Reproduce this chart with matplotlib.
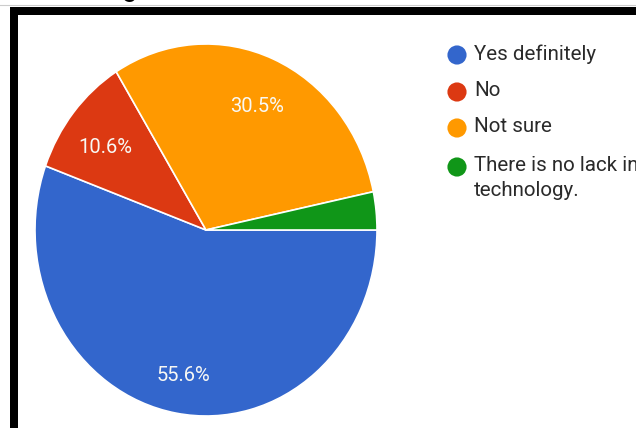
import matplotlib.pyplot as plt
from matplotlib.patches import Rectangle

plt.rcParams['font.family'] = ['Roboto', 'DejaVu Sans']

labels = ['Yes definitely', 'No', 'Not sure', 'There is no lack in\ntechnology.']
shares = [55.6, 10.6, 30.5, 3.3]
colors = ['#3366cc', '#dc3912', '#ff9900', '#109618']

W, H = 636, 428
fig = plt.figure(figsize=(W / 100, H / 100), dpi=100)

# pie sits in its own axes, slightly taller than wide
ax = fig.add_axes([35 / W, 12 / H, 342 / W, 372 / H])
wedges, texts, autotexts = ax.pie(
    shares, colors=colors, startangle=0, counterclock=False,
    autopct=lambda p: f'{p:.1f}%' if p > 5 else '', pctdistance=0.76,
    wedgeprops=dict(edgecolor='white', linewidth=1.2),
    textprops=dict(color='#f8f8f4', fontsize=14.5))
for t in autotexts:
    x, y = t.get_position()
    t.set_position((x, y - 0.035))
ax.set_aspect('auto')
ax.set_xlim(-1.0, 1.0)
ax.set_ylim(-1.0, 1.0)

# overlay in pixel units for the frame and legend
ov = fig.add_axes([0, 0, 1, 1], zorder=-1)
ov.set_xlim(0, W)
ov.set_ylim(H, 0)
ov.axis('off')
ov.patch.set_alpha(0)

ov.add_patch(Rectangle((10, 7), W, 8, color='black', lw=0))
ov.add_patch(Rectangle((10, 7), 8, H, color='black', lw=0))
ov.plot([0, W], [5, 5], color='#cccccc', lw=0.8)
ov.text(138, -4, 'ing', ha='right', va='baseline', fontsize=20,
        color='black', clip_on=False)

leg = fig.add_axes([0, 0, 1, 1])
leg.set_xlim(0, W)
leg.set_ylim(H, 0)
leg.axis('off')
rows = [55, 92, 128, 167]
for y, lab, c in zip(rows, labels, colors):
    leg.scatter([457], [y], s=190, color=c, edgecolors='none')
    leg.text(474, y - 11, lab, va='top', fontsize=14.8, color='#2a2a2a',
             linespacing=1.42, clip_on=False)

fig.savefig('out.png', dpi=100)
